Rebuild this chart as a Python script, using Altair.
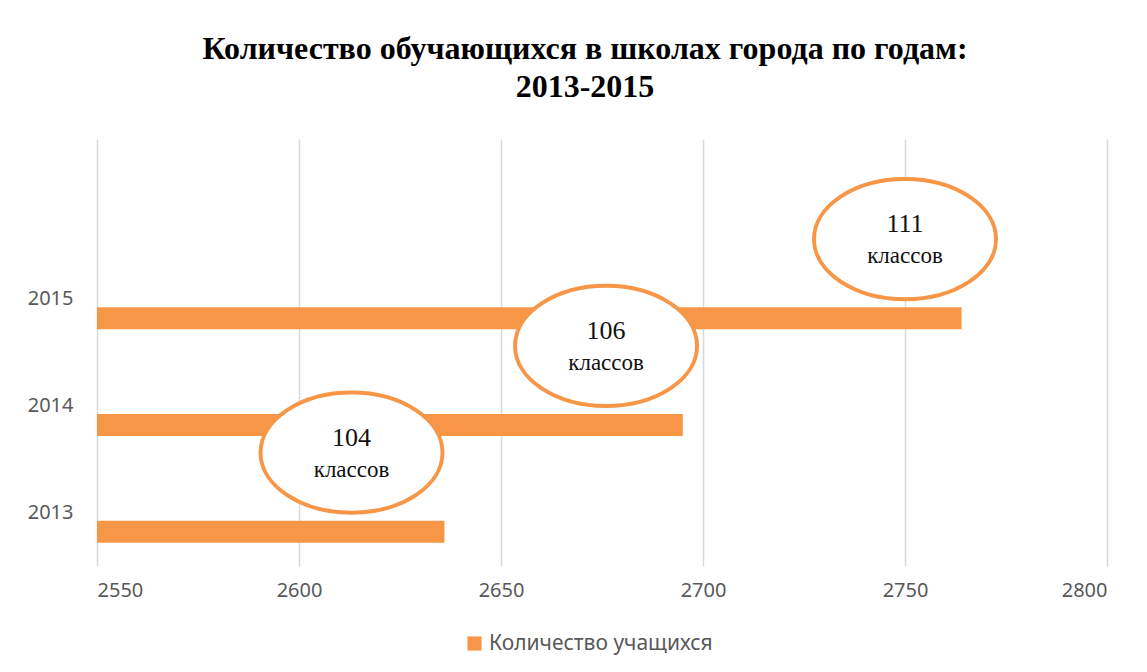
import altair as alt
import pandas as pd

years = ["2015", "2014", "2013"]
students = [2764, 2695, 2636]
ellipse_x = [2750, 2676, 2613]
class_counts = ["111", "106", "104"]
series_name = "Количество учащихся"

bars = pd.DataFrame({"year": years, "value": students, "series": [series_name] * 3})
ell = pd.DataFrame({"year": years, "x": ellipse_x, "num": class_counts, "word": ["классов"] * 3})

ORANGE = "#F79646"
y_domain = [" ", "2015", "2014", "2013"]

x_scale = alt.Scale(domain=[2550, 2800], nice=False, zero=False)
y_scale = alt.Scale(domain=y_domain, paddingInner=0, paddingOuter=0)

x_axis = alt.Axis(values=[2550, 2600, 2650, 2700, 2750, 2800], grid=True, gridColor="#D9D9D9",
                  gridWidth=1.5, domain=False, ticks=False, labelPadding=14, labelFontSize=20,
                  labelFont="Noto Sans", labelColor="#595959", title=None, format="d")
y_axis = alt.Axis(domain=False, ticks=False, grid=False, labelPadding=24, labelFontSize=20,
                  labelFont="Noto Sans", labelColor="#595959", title=None, minExtent=84)

bar = alt.Chart(bars).mark_bar(size=22, yOffset=19, clip=True).encode(
    x=alt.X("value:Q", scale=x_scale, axis=x_axis),
    y=alt.Y("year:N", scale=y_scale, axis=y_axis, sort=y_domain),
    color=alt.Color("series:N", scale=alt.Scale(range=[ORANGE]),
                    legend=alt.Legend(title=None, orient="none", legendX=367, legendY=494,
                                      symbolType="square", symbolSize=200, labelFontSize=21,
                                      labelFont="Noto Sans", labelColor="#595959",
                                      labelLimit=600, symbolStrokeWidth=0)),
)

ellipse_path = "M -1 0 A 1 0.66 0 1 1 1 0 A 1 0.66 0 1 1 -1 0 Z"
ellipses = alt.Chart(ell).mark_point(shape=ellipse_path, size=182 * 182, filled=False,
                                     fill="white", fillOpacity=1, stroke=ORANGE,
                                     strokeWidth=4, opacity=1, yOffset=-60).encode(
    x=alt.X("x:Q", scale=x_scale),
    y=alt.Y("year:N", scale=y_scale, sort=y_domain),
)

nums = alt.Chart(ell).mark_text(font="Liberation Serif", fontSize=26, color="#111111",
                                yOffset=-75).encode(
    x=alt.X("x:Q", scale=x_scale),
    y=alt.Y("year:N", scale=y_scale, sort=y_domain),
    text="num:N",
)
words = alt.Chart(ell).mark_text(font="Liberation Serif", fontSize=23, color="#111111",
                                 yOffset=-43).encode(
    x=alt.X("x:Q", scale=x_scale),
    y=alt.Y("year:N", scale=y_scale, sort=y_domain),
    text="word:N",
)

chart = alt.layer(bar, ellipses, nums, words).properties(
    width=1010,
    height=427,
    padding={"left": 5, "top": 25, "right": 5, "bottom": 5},
    title=alt.TitleParams(
        text=["Количество обучающихся в школах города по годам:", "2013-2015"],
        font="Liberation Serif", fontSize=32, fontWeight="bold", color="#000000",
        lineHeight=38, anchor="middle", offset=35, dx=-17,
    ),
).configure(background="white").configure_view(stroke="transparent", strokeWidth=0)

chart.save("out.html", embed_options={"renderer": "svg", "actions": False})
